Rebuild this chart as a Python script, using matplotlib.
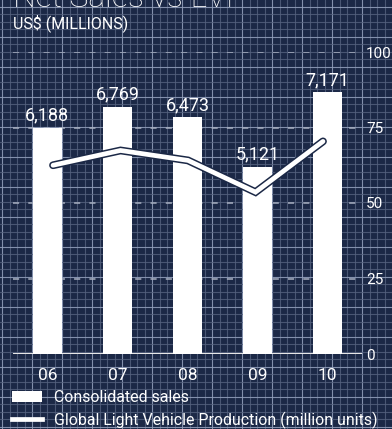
import matplotlib
matplotlib.use("Agg")
import matplotlib.pyplot as plt
from matplotlib.lines import Line2D
import matplotlib.patheffects as pe

plt.rcParams['font.family'] = ['Roboto', 'DejaVu Sans']

# Data
years = ["06", "07", "08", "09", "10"]
sales = [6188, 6769, 6473, 5121, 7171]            # US$ millions
lvp = [62.5, 67.4, 64.1, 53.6, 70.4]              # million units
right_ticks = [0, 25, 50, 75, 100]

NAVY = "#1b2846"
W, H = 392, 429

fig = plt.figure(figsize=(W / 100, H / 100), dpi=100, facecolor=NAVY)

# Blueprint grid background
bg = fig.add_axes([0, 0, 1, 1], zorder=-10)
bg.set_xlim(0, W)
bg.set_ylim(H, 0)
bg.set_facecolor(NAVY)
bg.axis("off")
step = 7.5
k = 0
x = 2.5
while x < W:
    major = (k % 4 == 0)
    bg.axvline(x, color="#8f9cb8" if major else "#55627f", lw=0.8, alpha=0.9 if major else 0.8)
    x += step
    k += 1
k = 0
y = 6.7
while y < H:
    major = (k % 4 == 0)
    bg.axhline(y, color="#8f9cb8" if major else "#55627f", lw=0.8, alpha=0.9 if major else 0.8)
    y += step
    k += 1

rect = [13 / W, (H - 354) / H, 349 / W, 302 / H]

# Bars (left scale, hidden)
ax = fig.add_axes(rect, zorder=1)
ax.patch.set_alpha(0)
xs = list(range(len(years)))
bars = ax.bar(xs, sales, width=0.41, color="white", zorder=3, label="Consolidated sales")
ax.set_xlim(-0.49, 4.49)
ax.set_ylim(0, 8260)
for s in ax.spines.values():
    s.set_visible(False)
ax.set_yticks([])
ax.set_xticks(xs)
ax.set_xticklabels(years, fontsize=12.5, color="white")
ax.tick_params(axis="x", length=0, pad=10)
for xi, v in zip(xs, sales):
    ax.annotate(f"{v:,}", (xi, v), xytext=(0, 5), textcoords="offset points",
                ha="center", va="baseline", fontsize=13, color="white", zorder=4)

# Right scale with dashed reference lines
axr = fig.add_axes(rect, zorder=0)
axr.patch.set_alpha(0)
axr.set_ylim(0, 100)
axr.set_xlim(0, 1)
axr.set_xticks([])
for s in axr.spines.values():
    s.set_visible(False)
axr.yaxis.tick_right()
axr.set_yticks(right_ticks)
axr.set_yticklabels([str(t) for t in right_ticks], fontsize=11, color="white")
axr.tick_params(axis="y", length=0, pad=3)
for t in right_ticks[1:]:
    axr.axhline(t, color="#a7afc0", lw=1.1, ls=(0, (4, 6)), xmax=1.0)
axr.axhline(0, color="#e6e6e6", lw=2.2, zorder=5)

# Production line
axl = fig.add_axes(rect, zorder=2)
axl.patch.set_alpha(0)
axl.axis("off")
axl.set_xlim(-0.593, 4.578)
axl.set_ylim(0, 100)
line, = axl.plot(xs, lvp, color="white", lw=3.4, solid_capstyle="round",
                 solid_joinstyle="miter",
                 path_effects=[pe.Stroke(linewidth=5.6, foreground="#1b2846"), pe.Normal()])

# Title and unit
fig.text(13 / W, 1 - 7 / H, "Net Sales vs LVP", fontsize=23, color="white",
         fontweight="light", ha="left", va="baseline")
fig.text(13 / W, 1 - 28.5 / H, "US$ (MILLIONS)", fontsize=11.5, color="white",
         ha="left", va="baseline")

# Legend
leg_line = Line2D([], [], color="white", lw=3.4)
fig.legend([bars, leg_line],
           ["Consolidated sales", "Global Light Vehicle Production (million units)"],
           loc="upper left", bbox_to_anchor=(12 / W, 1 - 390 / H), frameon=False,
           fontsize=11.4, labelcolor="white", handlelength=1.9, handleheight=0.76,
           handletextpad=0.76, labelspacing=0.4, borderpad=0, borderaxespad=0)

fig.savefig("out.png", dpi=100, facecolor=NAVY)
